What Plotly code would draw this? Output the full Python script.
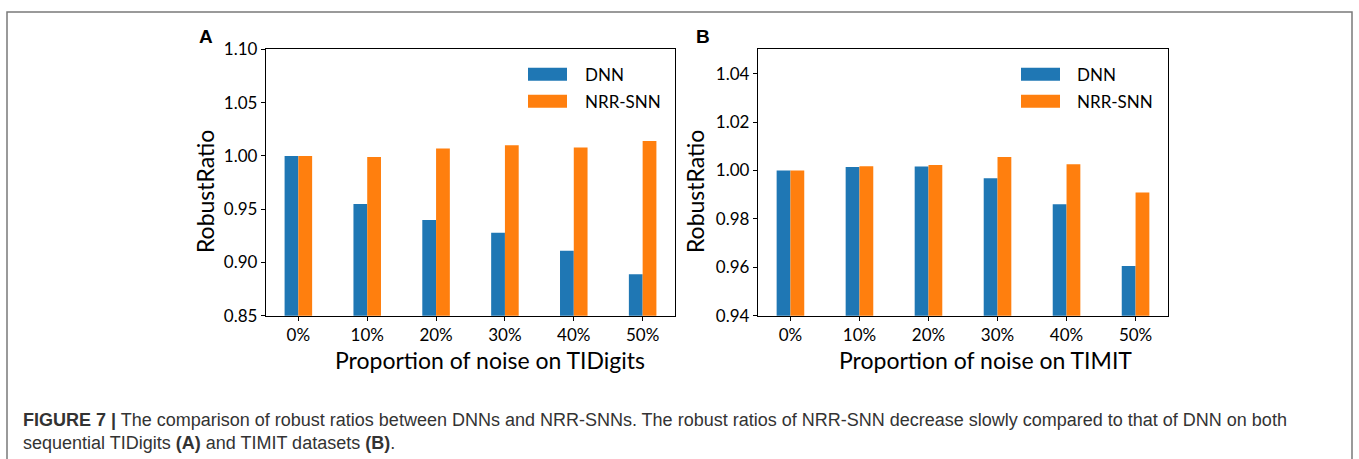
import plotly.graph_objects as go

W, H = 1359, 459

categories = ["0%", "10%", "20%", "30%", "40%", "50%"]
series_names = ["DNN", "NRR-SNN"]
tidigits_dnn = [1.000, 0.955, 0.940, 0.928, 0.911, 0.889]
tidigits_nrr = [1.000, 0.999, 1.007, 1.010, 1.008, 1.014]
timit_dnn = [1.000, 1.0014, 1.0016, 0.9968, 0.9861, 0.9606]
timit_nrr = [1.000, 1.0018, 1.0023, 1.0056, 1.0026, 0.9909]
ticks_a = [0.85, 0.90, 0.95, 1.00, 1.05, 1.10]
ticks_b = [0.94, 0.96, 0.98, 1.00, 1.02, 1.04]

BLUE = "#1f77b4"
ORANGE = "#ff7f0e"
TICKFONT = dict(family="Lato, Open Sans, sans-serif", size=17, color="black")
TITLEFONT = dict(family="Lato, Open Sans, sans-serif", size=23, color="black")

# vertical calibration of the rendered page (measured): shown_y = 10.5 + 0.9565 * y
Y_OFF, Y_SCALE = 10.5, 0.9565


def px(x):
    return x / W


def py(y):
    return 1 - ((y - Y_OFF) / Y_SCALE) / H


fig = go.Figure()
fig.add_trace(go.Bar(x=categories, y=tidigits_dnn, marker_color=BLUE, name=series_names[0],
                     xaxis="x", yaxis="y", showlegend=False, marker_line_width=0))
fig.add_trace(go.Bar(x=categories, y=tidigits_nrr, marker_color=ORANGE, name=series_names[1],
                     xaxis="x", yaxis="y", showlegend=False, marker_line_width=0))
fig.add_trace(go.Bar(x=categories, y=timit_dnn, marker_color=BLUE, name=series_names[0],
                     xaxis="x2", yaxis="y2", showlegend=False, marker_line_width=0))
fig.add_trace(go.Bar(x=categories, y=timit_nrr, marker_color=ORANGE, name=series_names[1],
                     xaxis="x2", yaxis="y2", showlegend=False, marker_line_width=0))

axis_common = dict(showline=True, linecolor="black", linewidth=1.3, mirror=True,
                   ticks="outside", ticklen=4, tickwidth=1.2, tickcolor="black",
                   showgrid=False, zeroline=False, tickfont=TICKFONT)

ydom = [py(316), py(49)]
fig.update_layout(
    width=W, height=H,
    margin=dict(l=0, r=0, t=0, b=0),
    paper_bgcolor="white", plot_bgcolor="white",
    barmode="group", bargap=0.6, bargroupgap=0,
    xaxis=dict(domain=[px(266), px(675)], anchor="y", range=[-0.47, 5.47], **axis_common),
    yaxis=dict(domain=ydom, anchor="x", range=[0.85, 1.10], tickvals=ticks_a,
               tickformat=".2f", **axis_common),
    xaxis2=dict(domain=[px(758), px(1168)], anchor="y2", range=[-0.47, 5.47], **axis_common),
    yaxis2=dict(domain=ydom, anchor="x2", range=[0.94, 1.05], tickvals=ticks_b,
                tickformat=".2f", **axis_common),
    showlegend=False,
)

ann = []
shapes = []


def add_text(text, x, y, font, xanchor="center", angle=0):
    ann.append(dict(text=text, x=px(x), y=py(y), xref="paper", yref="paper",
                    xanchor=xanchor, yanchor="middle", showarrow=False,
                    textangle=angle, font=font, borderpad=0))


LETTERFONT = dict(family="Liberation Sans, Arial", size=19, color="black")
add_text("<b>A</b>", 206, 36, LETTERFONT)
add_text("<b>B</b>", 703, 36, LETTERFONT)

add_text("Proportion of noise on TIDigits", 490, 360, TITLEFONT)
add_text("Proportion of noise on TIMIT", 985, 360, TITLEFONT)
add_text("RobustRatio", 205, 192, TITLEFONT, angle=-90)
add_text("RobustRatio", 695, 192, TITLEFONT, angle=-90)

LEGFONT = dict(family="Lato, Open Sans, sans-serif", size=17, color="black")
for (x0, tx) in [(528, 584), (1021, 1076)]:
    for name, col, yc in [(series_names[0], BLUE, 74), (series_names[1], ORANGE, 101)]:
        shapes.append(dict(type="rect", xref="paper", yref="paper",
                           x0=px(x0), x1=px(x0 + 39), y0=py(yc + 6.5), y1=py(yc - 6.5),
                           fillcolor=col, line=dict(width=0)))
        add_text(name, tx, yc, LEGFONT, xanchor="left")

# outer frame (top edge as high as the page allows, bottom beyond the page)
shapes.append(dict(type="rect", xref="paper", yref="paper",
                   x0=px(7), x1=px(1352), y0=-0.1, y1=1 - 1.0 / H,
                   line=dict(color="#7a7a7a", width=1.5), fillcolor="rgba(0,0,0,0)"))

CAPFONT = dict(family="Liberation Sans, Arial", size=18, color="#333333")
add_text("<b>FIGURE 7 |</b> The comparison of robust ratios between DNNs and NRR-SNNs. "
         "The robust ratios of NRR-SNN decrease slowly compared to that of DNN on both",
         22, 420, CAPFONT, xanchor="left")
add_text("sequential TIDigits <b>(A)</b> and TIMIT datasets <b>(B)</b>.",
         22, 444, CAPFONT, xanchor="left")

fig.update_layout(annotations=ann, shapes=shapes)
fig.write_html("out.html")
